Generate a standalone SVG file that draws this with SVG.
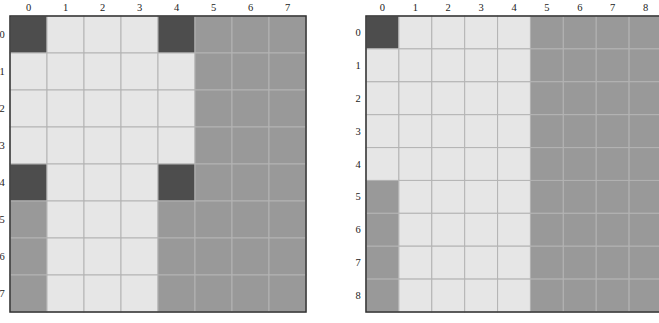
<svg xmlns="http://www.w3.org/2000/svg" width="659" height="323" viewBox="0 0 659 323">
<style>
.D{fill:#4d4d4d}.L{fill:#e6e6e6}.M{fill:#999999}
rect.c{stroke:#b3b3b3;stroke-width:1}
text{font-family:"Liberation Serif","DejaVu Serif",serif;font-size:10.5px;fill:#222;text-anchor:middle}
.frame{fill:none;stroke:#333;stroke-width:1.5}
</style>
<rect width="659" height="323" fill="#fff"/>
<g id="grid-left">
<g>
<rect class="c D" x="10" y="16" width="37" height="37"/><rect class="c L" x="47" y="16" width="37" height="37"/><rect class="c L" x="84" y="16" width="37" height="37"/><rect class="c L" x="121" y="16" width="37" height="37"/><rect class="c D" x="158" y="16" width="37" height="37"/><rect class="c M" x="195" y="16" width="37" height="37"/><rect class="c M" x="232" y="16" width="37" height="37"/><rect class="c M" x="269" y="16" width="37" height="37"/>
<rect class="c L" x="10" y="53" width="37" height="37"/><rect class="c L" x="47" y="53" width="37" height="37"/><rect class="c L" x="84" y="53" width="37" height="37"/><rect class="c L" x="121" y="53" width="37" height="37"/><rect class="c L" x="158" y="53" width="37" height="37"/><rect class="c M" x="195" y="53" width="37" height="37"/><rect class="c M" x="232" y="53" width="37" height="37"/><rect class="c M" x="269" y="53" width="37" height="37"/>
<rect class="c L" x="10" y="90" width="37" height="37"/><rect class="c L" x="47" y="90" width="37" height="37"/><rect class="c L" x="84" y="90" width="37" height="37"/><rect class="c L" x="121" y="90" width="37" height="37"/><rect class="c L" x="158" y="90" width="37" height="37"/><rect class="c M" x="195" y="90" width="37" height="37"/><rect class="c M" x="232" y="90" width="37" height="37"/><rect class="c M" x="269" y="90" width="37" height="37"/>
<rect class="c L" x="10" y="127" width="37" height="37"/><rect class="c L" x="47" y="127" width="37" height="37"/><rect class="c L" x="84" y="127" width="37" height="37"/><rect class="c L" x="121" y="127" width="37" height="37"/><rect class="c L" x="158" y="127" width="37" height="37"/><rect class="c M" x="195" y="127" width="37" height="37"/><rect class="c M" x="232" y="127" width="37" height="37"/><rect class="c M" x="269" y="127" width="37" height="37"/>
<rect class="c D" x="10" y="164" width="37" height="37"/><rect class="c L" x="47" y="164" width="37" height="37"/><rect class="c L" x="84" y="164" width="37" height="37"/><rect class="c L" x="121" y="164" width="37" height="37"/><rect class="c D" x="158" y="164" width="37" height="37"/><rect class="c M" x="195" y="164" width="37" height="37"/><rect class="c M" x="232" y="164" width="37" height="37"/><rect class="c M" x="269" y="164" width="37" height="37"/>
<rect class="c M" x="10" y="201" width="37" height="37"/><rect class="c L" x="47" y="201" width="37" height="37"/><rect class="c L" x="84" y="201" width="37" height="37"/><rect class="c L" x="121" y="201" width="37" height="37"/><rect class="c M" x="158" y="201" width="37" height="37"/><rect class="c M" x="195" y="201" width="37" height="37"/><rect class="c M" x="232" y="201" width="37" height="37"/><rect class="c M" x="269" y="201" width="37" height="37"/>
<rect class="c M" x="10" y="238" width="37" height="37"/><rect class="c L" x="47" y="238" width="37" height="37"/><rect class="c L" x="84" y="238" width="37" height="37"/><rect class="c L" x="121" y="238" width="37" height="37"/><rect class="c M" x="158" y="238" width="37" height="37"/><rect class="c M" x="195" y="238" width="37" height="37"/><rect class="c M" x="232" y="238" width="37" height="37"/><rect class="c M" x="269" y="238" width="37" height="37"/>
<rect class="c M" x="10" y="275" width="37" height="37"/><rect class="c L" x="47" y="275" width="37" height="37"/><rect class="c L" x="84" y="275" width="37" height="37"/><rect class="c L" x="121" y="275" width="37" height="37"/><rect class="c M" x="158" y="275" width="37" height="37"/><rect class="c M" x="195" y="275" width="37" height="37"/><rect class="c M" x="232" y="275" width="37" height="37"/><rect class="c M" x="269" y="275" width="37" height="37"/>
</g>
<rect class="frame" x="10" y="16" width="296" height="296"/>
<g>
<text x="28.5" y="11">0</text><text x="65.5" y="11">1</text><text x="102.5" y="11">2</text><text x="139.5" y="11">3</text><text x="176.5" y="11">4</text><text x="213.5" y="11">5</text><text x="250.5" y="11">6</text><text x="287.5" y="11">7</text>
<text x="2" y="38">0</text><text x="2" y="75">1</text><text x="2" y="112">2</text><text x="2" y="149">3</text><text x="2" y="186">4</text><text x="2" y="223">5</text><text x="2" y="260">6</text><text x="2" y="297">7</text>
</g>
</g>
<g id="grid-right">
<g>
<rect class="c D" x="366" y="16" width="32.9" height="32.9"/><rect class="c L" x="398.9" y="16" width="32.9" height="32.9"/><rect class="c L" x="431.8" y="16" width="32.9" height="32.9"/><rect class="c L" x="464.7" y="16" width="32.9" height="32.9"/><rect class="c L" x="497.6" y="16" width="32.9" height="32.9"/><rect class="c M" x="530.4" y="16" width="32.9" height="32.9"/><rect class="c M" x="563.3" y="16" width="32.9" height="32.9"/><rect class="c M" x="596.2" y="16" width="32.9" height="32.9"/><rect class="c M" x="629.1" y="16" width="32.9" height="32.9"/>
<rect class="c L" x="366" y="48.9" width="32.9" height="32.9"/><rect class="c L" x="398.9" y="48.9" width="32.9" height="32.9"/><rect class="c L" x="431.8" y="48.9" width="32.9" height="32.9"/><rect class="c L" x="464.7" y="48.9" width="32.9" height="32.9"/><rect class="c L" x="497.6" y="48.9" width="32.9" height="32.9"/><rect class="c M" x="530.4" y="48.9" width="32.9" height="32.9"/><rect class="c M" x="563.3" y="48.9" width="32.9" height="32.9"/><rect class="c M" x="596.2" y="48.9" width="32.9" height="32.9"/><rect class="c M" x="629.1" y="48.9" width="32.9" height="32.9"/>
<rect class="c L" x="366" y="81.8" width="32.9" height="32.9"/><rect class="c L" x="398.9" y="81.8" width="32.9" height="32.9"/><rect class="c L" x="431.8" y="81.8" width="32.9" height="32.9"/><rect class="c L" x="464.7" y="81.8" width="32.9" height="32.9"/><rect class="c L" x="497.6" y="81.8" width="32.9" height="32.9"/><rect class="c M" x="530.4" y="81.8" width="32.9" height="32.9"/><rect class="c M" x="563.3" y="81.8" width="32.9" height="32.9"/><rect class="c M" x="596.2" y="81.8" width="32.9" height="32.9"/><rect class="c M" x="629.1" y="81.8" width="32.9" height="32.9"/>
<rect class="c L" x="366" y="114.7" width="32.9" height="32.9"/><rect class="c L" x="398.9" y="114.7" width="32.9" height="32.9"/><rect class="c L" x="431.8" y="114.7" width="32.9" height="32.9"/><rect class="c L" x="464.7" y="114.7" width="32.9" height="32.9"/><rect class="c L" x="497.6" y="114.7" width="32.9" height="32.9"/><rect class="c M" x="530.4" y="114.7" width="32.9" height="32.9"/><rect class="c M" x="563.3" y="114.7" width="32.9" height="32.9"/><rect class="c M" x="596.2" y="114.7" width="32.9" height="32.9"/><rect class="c M" x="629.1" y="114.7" width="32.9" height="32.9"/>
<rect class="c L" x="366" y="147.6" width="32.9" height="32.9"/><rect class="c L" x="398.9" y="147.6" width="32.9" height="32.9"/><rect class="c L" x="431.8" y="147.6" width="32.9" height="32.9"/><rect class="c L" x="464.7" y="147.6" width="32.9" height="32.9"/><rect class="c L" x="497.6" y="147.6" width="32.9" height="32.9"/><rect class="c M" x="530.4" y="147.6" width="32.9" height="32.9"/><rect class="c M" x="563.3" y="147.6" width="32.9" height="32.9"/><rect class="c M" x="596.2" y="147.6" width="32.9" height="32.9"/><rect class="c M" x="629.1" y="147.6" width="32.9" height="32.9"/>
<rect class="c M" x="366" y="180.4" width="32.9" height="32.9"/><rect class="c L" x="398.9" y="180.4" width="32.9" height="32.9"/><rect class="c L" x="431.8" y="180.4" width="32.9" height="32.9"/><rect class="c L" x="464.7" y="180.4" width="32.9" height="32.9"/><rect class="c L" x="497.6" y="180.4" width="32.9" height="32.9"/><rect class="c M" x="530.4" y="180.4" width="32.9" height="32.9"/><rect class="c M" x="563.3" y="180.4" width="32.9" height="32.9"/><rect class="c M" x="596.2" y="180.4" width="32.9" height="32.9"/><rect class="c M" x="629.1" y="180.4" width="32.9" height="32.9"/>
<rect class="c M" x="366" y="213.3" width="32.9" height="32.9"/><rect class="c L" x="398.9" y="213.3" width="32.9" height="32.9"/><rect class="c L" x="431.8" y="213.3" width="32.9" height="32.9"/><rect class="c L" x="464.7" y="213.3" width="32.9" height="32.9"/><rect class="c L" x="497.6" y="213.3" width="32.9" height="32.9"/><rect class="c M" x="530.4" y="213.3" width="32.9" height="32.9"/><rect class="c M" x="563.3" y="213.3" width="32.9" height="32.9"/><rect class="c M" x="596.2" y="213.3" width="32.9" height="32.9"/><rect class="c M" x="629.1" y="213.3" width="32.9" height="32.9"/>
<rect class="c M" x="366" y="246.2" width="32.9" height="32.9"/><rect class="c L" x="398.9" y="246.2" width="32.9" height="32.9"/><rect class="c L" x="431.8" y="246.2" width="32.9" height="32.9"/><rect class="c L" x="464.7" y="246.2" width="32.9" height="32.9"/><rect class="c L" x="497.6" y="246.2" width="32.9" height="32.9"/><rect class="c M" x="530.4" y="246.2" width="32.9" height="32.9"/><rect class="c M" x="563.3" y="246.2" width="32.9" height="32.9"/><rect class="c M" x="596.2" y="246.2" width="32.9" height="32.9"/><rect class="c M" x="629.1" y="246.2" width="32.9" height="32.9"/>
<rect class="c M" x="366" y="279.1" width="32.9" height="32.9"/><rect class="c L" x="398.9" y="279.1" width="32.9" height="32.9"/><rect class="c L" x="431.8" y="279.1" width="32.9" height="32.9"/><rect class="c L" x="464.7" y="279.1" width="32.9" height="32.9"/><rect class="c L" x="497.6" y="279.1" width="32.9" height="32.9"/><rect class="c M" x="530.4" y="279.1" width="32.9" height="32.9"/><rect class="c M" x="563.3" y="279.1" width="32.9" height="32.9"/><rect class="c M" x="596.2" y="279.1" width="32.9" height="32.9"/><rect class="c M" x="629.1" y="279.1" width="32.9" height="32.9"/>
</g>
<rect class="frame" x="366" y="16" width="296" height="296"/>
<g>
<text x="382.4" y="11">0</text><text x="415.3" y="11">1</text><text x="448.2" y="11">2</text><text x="481.1" y="11">3</text><text x="514" y="11">4</text><text x="546.9" y="11">5</text><text x="579.8" y="11">6</text><text x="612.7" y="11">7</text><text x="645.6" y="11">8</text>
<text x="358" y="36">0</text><text x="358" y="69">1</text><text x="358" y="102">2</text><text x="358" y="135">3</text><text x="358" y="167.6">4</text><text x="358" y="200.4">5</text><text x="358" y="233.3">6</text><text x="358" y="266.2">7</text><text x="358" y="299.1">8</text>
</g>
</g>
</svg>
